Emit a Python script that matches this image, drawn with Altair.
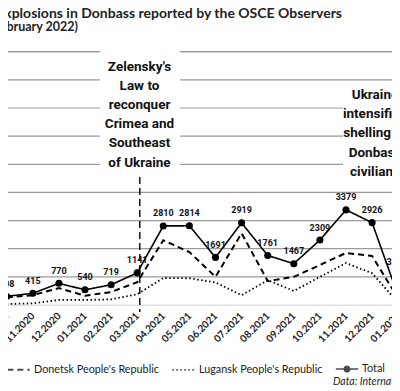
import json
import altair as alt
import pandas as pd

# ---------------- data ----------------
month_labels = ["10.2020", "11.2020", "12.2020", "01.2021", "02.2021", "03.2021",
                "04.2021", "05.2021", "06.2021", "07.2021", "08.2021", "09.2021",
                "10.2021", "11.2021", "12.2021", "01.2022", "02.2022"]
total = [308, 415, 770, 540, 719, 1141, 2810, 2814, 1691, 2919, 1761, 1467,
         2309, 3379, 2926, 320]
donetsk = [270, 350, 600, 330, 460, 810, 2300, 1880, 1000, 2550, 850, 1000,
           1420, 1850, 1740, 230]
lugansk = [35, 60, 180, 180, 200, 380, 960, 950, 800, 350, 880, 500,
           1000, 1490, 1130, 80]
grid_values = [0, 1000, 2000, 3000, 4000, 5000, 6000, 7000, 8000, 9000]
series_names = ["Donetsk People's Republic", "Lugansk People's Republic", "Total"]
law_month = 5.1  # Zelensky's law (late March 2021)

zel_text = ["Zelensky's", "Law to", "reconquer", "Crimea and", "Southeast", "of Ukraine"]
ukr_text = ["Ukraine", "intensified", "shelling of", "Donbass", "civilians"]
title_text = "Explosions in Donbass reported by the OSCE Observers"
subtitle_text = "(October 2020 \u2013 February 2022)"
source_text = "Data: International Crisis Group"

rows = []
for name, vals in zip(series_names, [donetsk, lugansk, total]):
    for i, v in enumerate(vals):
        rows.append({"series": name, "m": i, "value": v})
df = pd.DataFrame(rows)
tot_df = df[df.series == "Total"]

# ---------------- geometry helpers ----------------
OX, OY = -19.4, 51.7          # page position of plot origin
W, H = 469.8, 253.3
SVG_W, SVG_H = 384, 383


def px(x):
    return x - OX


def py(y):
    return y - OY


COND = "Roboto"

label_expr = json.dumps(month_labels) + "[datum.value]"
xs = alt.Scale(domain=[-1, 17], nice=False, zero=False)
ys = alt.Scale(domain=[0, 9000], nice=False)

xaxis = alt.Axis(values=list(range(len(month_labels))), labelExpr=label_expr,
                 labelAngle=-45, labelAlign="right", labelBaseline="middle",
                 labelPadding=9, tickSize=0, ticks=False, domain=False, grid=False,
                 title=None, labelFont="Lato", labelFontSize=10, labelFontWeight="bold",
                 labelColor="#222", labelOverlap=False, labelBound=False, labelFlush=False)

X = alt.X("m:Q", scale=xs, axis=xaxis)
Y = alt.Y("value:Q", scale=ys, axis=None)

dash_scale = alt.Scale(domain=series_names, range=[[6, 4], [1.5, 2.5], [1, 0]])
total_path = ("M-1,0H1"
              "M0.08,0A0.08,0.08,0,1,1,-0.08,0A0.08,0.08,0,1,1,0.08,0"
              "M0.17,0A0.17,0.17,0,1,1,-0.17,0A0.17,0.17,0,1,1,0.17,0"
              "M0.24,0A0.24,0.24,0,1,1,-0.24,0A0.24,0.24,0,1,1,0.24,0")
shape_scale = alt.Scale(domain=series_names, range=["stroke", "stroke", total_path])

legend = alt.Legend(orient="none", legendX=px(6), legendY=py(357), direction="horizontal",
                    title=None, labelFont="Lato", labelFontSize=10.8, labelColor="#222",
                    symbolSize=500, symbolStrokeWidth=2.2, symbolStrokeColor="black",
                    columnPadding=9, labelOffset=3)

gridlines = alt.Chart(pd.DataFrame({"g": grid_values})).mark_rule(strokeWidth=1.2).encode(
    y=alt.Y("g:Q", scale=ys, axis=None),
    x=alt.value(0), x2=alt.value(W),
    color=alt.condition("datum.g == 0", alt.value("#e2e2e2"), alt.value("#9a9a9a")),
)

lines = alt.Chart(df).mark_line(color="black").encode(
    x=X, y=Y,
    strokeDash=alt.StrokeDash("series:N", scale=dash_scale, legend=legend),
    strokeWidth=alt.StrokeWidth("series:N", scale=alt.Scale(domain=series_names, range=[2, 1.6, 2.2]),
                                legend=None),
    detail="series:N",
)

legend_src = alt.Chart(df).transform_filter("false").mark_point(
    color="black", filled=False, strokeWidth=2.2).encode(
    x=X, y=Y,
    shape=alt.Shape("series:N", scale=shape_scale, legend=legend),
    strokeDash=alt.StrokeDash("series:N", scale=dash_scale, legend=legend),
)

points = alt.Chart(tot_df).mark_circle(color="black", size=50, opacity=1).encode(x=X, y=Y)

labels = alt.Chart(tot_df).transform_filter("datum.m < 15").mark_text(
    font=COND, fontWeight="bold", fontSize=9, color="#111",
    dy=-12.5, baseline="middle").encode(x=X, y=Y, text="value:Q")

last_label = alt.Chart(tot_df).transform_filter("datum.m == 15").mark_text(
    font=COND, fontWeight="bold", fontSize=9, color="#111",
    dy=-34, dx=-4, baseline="middle").encode(x=X, y=Y, text="value:Q")

one = pd.DataFrame({"a": [0]})
white_boxes = alt.Chart(pd.DataFrame({"x": [px(100), px(343)], "x2": [px(180), px(470)],
                                      "y": [py(45), py(84)], "y2": [py(170), py(170)]})
                        ).mark_rect(color="white").encode(
    x=alt.X("x:Q", scale=None, axis=None), x2="x2:Q",
    y=alt.Y("y:Q", scale=None, axis=None), y2="y2:Q")

law_rule = alt.Chart(pd.DataFrame({"m": [law_month]})).mark_rule(
    color="black", strokeWidth=1.4, strokeDash=[7, 4]).encode(
    x=X, y=alt.value(py(177)), y2=alt.value(py(312)))

zel = alt.Chart(one).mark_text(text=zel_text, font=COND, fontWeight="bold",
                               fontSize=13.5, lineHeight=19.2, align="center",
                               baseline="alphabetic", color="#111").encode(
    x=alt.value(px(139.5)), y=alt.value(py(70.7)))

ukr = alt.Chart(one).mark_text(text=ukr_text, font=COND, fontWeight="bold",
                               fontSize=13.5, lineHeight=19.1, align="center",
                               baseline="alphabetic", color="#111").encode(
    x=alt.value(px(375)), y=alt.value(py(99.3)))

title = alt.Chart(one).mark_text(text=title_text, font="Lato", fontWeight="bold", fontSize=14,
                                 align="right", baseline="alphabetic", color="#222").encode(
    x=alt.value(px(342)), y=alt.value(py(18)))
subtitle = alt.Chart(one).mark_text(text=subtitle_text, font="Lato", fontWeight="bold",
                                    fontSize=12.5, align="right", baseline="alphabetic",
                                    color="#222").encode(
    x=alt.value(px(78)), y=alt.value(py(31)))
source = alt.Chart(one).mark_text(text=source_text, font="Lato", fontStyle="italic",
                                  fontSize=10.5, align="left", baseline="alphabetic",
                                  color="#222").encode(
    x=alt.value(px(333)), y=alt.value(py(385)))

pad_left = OX - 8
pad_top = OY - 8
chart = alt.layer(gridlines, lines, legend_src, white_boxes, law_rule, points, labels,
                  last_label, zel, ukr, title, subtitle, source).properties(
    width=W, height=H,
    autosize=alt.AutoSizeParams(type="none"),
    padding={"left": pad_left, "top": pad_top,
             "right": SVG_W - W - pad_left, "bottom": SVG_H - H - pad_top},
).configure_view(stroke=None).configure_axis(labelOverlap=False).configure(background="white")

chart.save("out.html", embed_options={"renderer": "svg", "actions": False})
